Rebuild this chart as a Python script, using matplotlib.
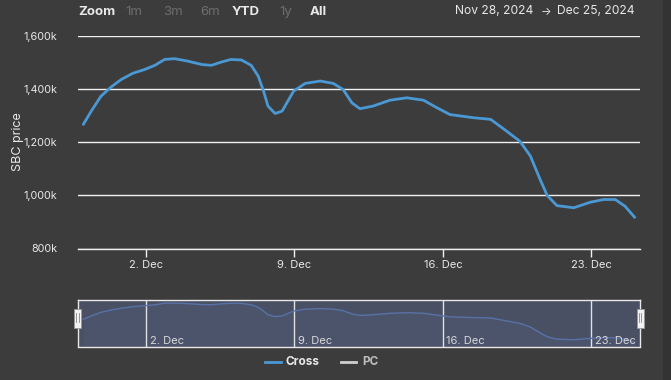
import matplotlib
matplotlib.use("Agg")
import matplotlib.pyplot as plt
import pandas as pd
from matplotlib.patches import Rectangle

plt.rcParams['font.family'] = ['Inter', 'DejaVu Sans']

# ---- data ----
times = ["2024-11-29 01:00", "2024-11-29 10:00", "2024-11-29 21:00", "2024-11-30 09:00",
         "2024-11-30 20:00", "2024-12-01 09:00", "2024-12-01 23:00", "2024-12-02 10:00",
         "2024-12-02 21:00", "2024-12-03 08:00", "2024-12-03 23:00", "2024-12-04 15:00",
         "2024-12-05 02:00", "2024-12-05 13:00", "2024-12-06 00:00", "2024-12-06 12:00",
         "2024-12-06 23:00", "2024-12-07 07:00", "2024-12-07 13:00", "2024-12-07 18:00",
         "2024-12-08 02:00", "2024-12-08 10:00", "2024-12-08 23:00", "2024-12-09 12:00",
         "2024-12-10 05:00", "2024-12-10 20:00", "2024-12-11 07:00", "2024-12-11 17:00",
         "2024-12-12 02:00", "2024-12-12 17:00", "2024-12-13 12:00", "2024-12-14 07:00",
         "2024-12-15 02:00", "2024-12-15 17:00", "2024-12-16 08:00", "2024-12-17 11:00",
         "2024-12-18 06:00", "2024-12-19 00:00", "2024-12-19 15:00", "2024-12-20 03:00",
         "2024-12-20 14:00", "2024-12-20 22:00", "2024-12-21 09:00", "2024-12-22 04:00",
         "2024-12-22 23:00", "2024-12-23 14:00", "2024-12-24 03:00", "2024-12-24 14:00",
         "2024-12-25 01:00"]
cross = [1266, 1316, 1372, 1408, 1435, 1458, 1473, 1488, 1510, 1513, 1504, 1491,
         1488, 1500, 1510, 1508, 1488, 1447, 1391, 1335, 1307, 1316, 1391, 1420,
         1429, 1420, 1397, 1347, 1325, 1335, 1357, 1366, 1357, 1329, 1303, 1291,
         1285, 1241, 1203, 1147, 1059, 999, 961, 953, 974, 984, 984, 959, 917]
y_ticks = [800, 1000, 1200, 1400, 1600]
y_tick_labels = ["800k", "1,000k", "1,200k", "1,400k", "1,600k"]
x_ticks = ["2024-12-02", "2024-12-09", "2024-12-16", "2024-12-23"]
x_tick_labels = ["2. Dec", "9. Dec", "16. Dec", "23. Dec"]
zoom_buttons = ["1m", "3m", "6m", "YTD", "1y", "All"]
series_names = ["Cross", "PC"]
range_from, range_to = "Nov 28, 2024", "Dec 25, 2024"

t = pd.to_datetime(times)
xt = pd.to_datetime(x_ticks)
xmin = pd.Timestamp("2024-11-28 19:00")
xmax = pd.Timestamp("2024-12-25 07:00")

W, H = 671, 380
BG = "#3c3c3c"
BLUE = "#4a98d4"
TXT = "#e8e8e8"

fig = plt.figure(figsize=(W / 100, H / 100), dpi=100, facecolor=BG)

def px_axes(x0, y0, x1, y1):
    return fig.add_axes([x0 / W, 1 - y1 / H, (x1 - x0) / W, (y1 - y0) / H])

# ---- main plot ----
ax = px_axes(78, 35.5, 640, 248.5)
ax.set_facecolor(BG)
ax.plot(t, cross, color=BLUE, lw=2, solid_capstyle="round", solid_joinstyle="round", zorder=3)
ax.set_xlim(xmin, xmax)
ax.set_ylim(800, 1600)
ax.set_yticks(y_ticks)
ax.set_yticklabels(y_tick_labels)
ax.set_xticks(xt)
ax.set_xticklabels(x_tick_labels)
ax.grid(axis="y", color="#f0f0f0", lw=1)
ax.set_axisbelow(True)
for s in ["top", "right", "left"]:
    ax.spines[s].set_visible(False)
ax.spines["bottom"].set_color("#f0f0f0")
ax.spines["bottom"].set_linewidth(1)
ax.tick_params(axis="y", length=0, pad=15, labelsize=7.8, labelcolor=TXT)
ax.tick_params(axis="x", length=6, width=1, color="#f0f0f0", pad=2, labelsize=8, labelcolor=TXT)
fig.text(18 / W, 1 - 142 / H, "SBC price", color=TXT, fontsize=9, rotation=90,
         ha="center", va="center")

# ---- navigator ----
nav = px_axes(78, 300, 640, 346.5)
nav.set_facecolor("#4a5064")
nav.plot(t, cross, color="#5872a8", lw=1, zorder=3)
nav.fill_between(t, cross, 850, color="#4f5875", alpha=0.5, lw=0)
nav.set_xlim(xmin, xmax)
nav.set_ylim(850, 1560)
nav.set_yticks([])
nav.set_xticks(xt)
nav.set_xticklabels([])
nav.tick_params(axis="x", length=0)
nav.grid(axis="x", color="#e0e0e0", lw=1)
for s in nav.spines.values():
    s.set_color("#e8e8e8")
    s.set_linewidth(1)
for d, lab in zip(xt, x_tick_labels):
    nav.text(d + pd.Timedelta(hours=4), 856, lab, color="#d8d8d8", fontsize=8,
             va="bottom", ha="left")

# handles
for hx in [77.5, 640]:
    fig.patches.append(Rectangle(((hx - 3.5) / W, 1 - 328 / H), 7 / W, 19 / H,
                                 transform=fig.transFigure, facecolor="#f2f2f2",
                                 edgecolor="#999999", lw=0.6, zorder=5))
    for off in (-1.2, 1.2):
        fig.lines.append(plt.Line2D([(hx + off) / W] * 2, [1 - 313 / H, 1 - 322 / H],
                                    transform=fig.transFigure, color="#888888", lw=0.6, zorder=6))

# ---- top range selector ----
fig.text(78 / W, 1 - 12 / H, "Zoom", color=TXT, fontsize=9.5, fontweight="bold", va="center")
btn_x = [125, 163, 200, 232, 279, 310]
for bx, lab in zip(btn_x, zoom_buttons):
    active = lab in ("YTD", "All")
    fig.text(bx / W, 1 - 12 / H, lab, color=TXT if active else "#6e6e6e", fontsize=9.5,
             fontweight="bold" if active else "normal", va="center")

fig.text(455 / W, 1 - 11.5 / H, range_from, color=TXT, fontsize=8.7, va="center")
fig.text(546 / W, 1 - 12 / H, "\u2192", color=TXT, fontsize=8, va="center", ha="center")
fig.text(635 / W, 1 - 11.5 / H, range_to, color=TXT, fontsize=8.7, va="center", ha="right")

# ---- legend ----
ly = 1 - 362 / H
fig.lines.append(plt.Line2D([265 / W, 281 / W], [ly, ly], transform=fig.transFigure, color=BLUE, lw=2))
fig.text(286 / W, ly, series_names[0], color=TXT, fontsize=8.5, fontweight="bold", va="center")
fig.lines.append(plt.Line2D([341 / W, 356 / W], [ly, ly], transform=fig.transFigure, color="#cfcfcf", lw=2))
fig.text(362 / W, ly, series_names[1], color="#bdbdbd", fontsize=8.5, fontweight="bold", va="center")

# darker right strip
fig.patches.append(Rectangle((663 / W, 0), 8 / W, 1, transform=fig.transFigure,
                             facecolor="#333333", lw=0, zorder=0))

fig.savefig("out.png", dpi=100, facecolor=BG)
